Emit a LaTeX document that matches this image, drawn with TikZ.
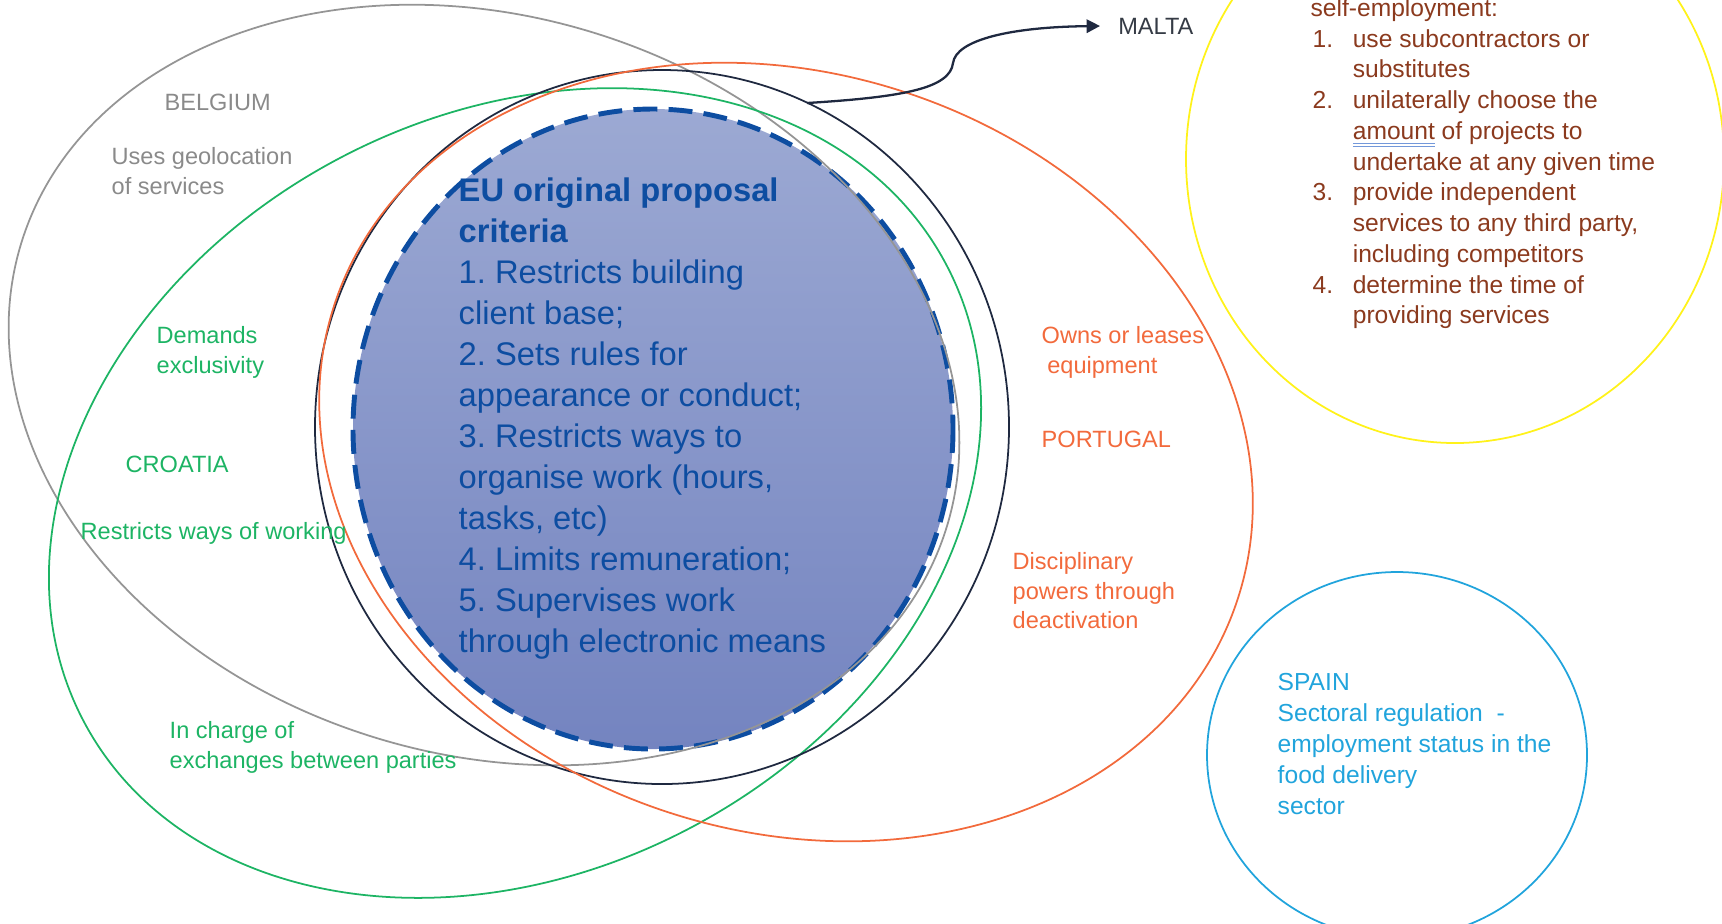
\documentclass[tikz,border=0pt]{standalone}
\usepackage{fontspec}
\setmainfont{Liberation Sans}
\usetikzlibrary{arrows.meta}
\definecolor{eublue}{HTML}{0D4DA1}
\definecolor{eufilltop}{HTML}{9CA9D3}
\definecolor{eufillbot}{HTML}{7484C0}
\definecolor{begray}{HTML}{959595}
\definecolor{betext}{HTML}{8A8A8A}
\definecolor{hrgreen}{HTML}{1DB464}
\definecolor{ptorange}{HTML}{F26A3C}
\definecolor{mtnavy}{HTML}{1F2940}
\definecolor{mttext}{HTML}{353B45}
\definecolor{mtyellow}{HTML}{FFF21A}
\definecolor{mtbrown}{HTML}{8B3A1E}
\definecolor{esblue}{HTML}{21A4DC}
\definecolor{spellmark}{HTML}{7398DA}

% double underline as left by the spell checker
\newcommand\dblmark[1]{\setbox0=\hbox{#1}%
  \rlap{\color{spellmark}\rule[-1.4pt]{\wd0}{0.3pt}}%
  \rlap{\color{spellmark}\rule[-2.2pt]{\wd0}{0.3pt}}\box0\relax}

\frenchspacing

\begin{document}
\begin{tikzpicture}[x=0.01cm, y=-0.01cm,
  set/.style={line width=0.5pt},
  lbl/.style={inner sep=0pt, align=left, font=\fontsize{6.7}{8.4}\selectfont},
  txt/.style={inner sep=0pt, align=left, font=\fontsize{7}{8.75}\selectfont},
  crit/.style={inner sep=0pt, align=left, text=eublue, font=\fontsize{9.3}{11.65}\selectfont}]
  \useasboundingbox (0,0) rectangle (1722,923);
  \clip (0,0) rectangle (1722,923);

  % EU criteria (filled, drawn first)
  \draw[eublue, line width=1.4pt, dash pattern=on 6.8pt off 3.2pt,
    top color=eufilltop, bottom color=eufillbot] (653,429) ellipse [x radius=300, y radius=320];

  % country sets
  \draw[set, begray, shift={(484,385)}, rotate=-17] (0,0) ellipse [x radius=484, y radius=369];
  \draw[set, hrgreen, shift={(515,493)}, rotate=28] (0,0) ellipse [x radius=488, y radius=378];
  \draw[set, mtnavy] (662,427) ellipse [x radius=347, y radius=357];
  \draw[set, ptorange, shift={(786,452)}, rotate=-18] (0,0) ellipse [x radius=475, y radius=379];
  \draw[set, mtyellow] (1455,159) ellipse [x radius=269, y radius=284];
  \draw[set, esblue] (1397,755) ellipse [x radius=190, y radius=183];

  \node[crit, anchor=north west] (eu) at (458,177)
    {\textbf{EU original proposal}\\\textbf{criteria}\\1. Restricts building\\client base;\\
     2. Sets rules for\\appearance or conduct;\\3. Restricts ways to\\organise work (hours,\\
     tasks, etc)\\4. Limits remuneration;\\5. Supervises work\\through electronic means};

  % Belgium
  \node[lbl, text=betext, anchor=west] (be) at (164,102) {BELGIUM};
  \node[lbl, text=betext, anchor=north west] (begeo) at (111,147) {Uses geolocation\\of services};

  % Croatia
  \node[lbl, text=hrgreen, anchor=north west] (hrexcl) at (156,326) {Demands\\exclusivity};
  \node[lbl, text=hrgreen, anchor=west] (hr) at (125,464) {CROATIA};
  \node[lbl, text=hrgreen, anchor=west] (hrways) at (80,533) {Restricts ways of working};
  \node[lbl, text=hrgreen, anchor=north west] (hrexch) at (169,721) {In charge of\\exchanges between parties};

  % Portugal
  \node[lbl, text=ptorange, anchor=north west] (ptown) at (1041,326) {Owns or leases\\\hspace*{1.6pt}equipment};
  \node[lbl, text=ptorange, anchor=west] (pt) at (1041,439) {PORTUGAL};
  \node[lbl, text=ptorange, anchor=north west] (ptdisc) at (1012,552) {Disciplinary\\powers through\\deactivation};

  % Spain
  \node[txt, text=esblue, anchor=north west] (es) at (1277,673)
    {SPAIN\\Sectoral regulation~~-\\employment status in the\\food delivery\\sector};

  % Malta
  \node[lbl, text=mttext, anchor=west, inner sep=5pt] (malta) at (1100,26) {MALTA};
  \node[txt, text=mtbrown, anchor=north west] (mtlist) at (1312,-6)
    {\begin{tabular}[t]{@{}p{11.4pt}@{}l@{}}
      \multicolumn{2}{@{}l@{}}{\hspace*{-0.6pt}self-employment:}\\
      1. & use subcontractors or\\
         & substitutes\\
      2. & unilaterally choose the\\
         & \dblmark{amount} of projects to\\
         & undertake at any given time\\
      3. & provide independent\\
         & services to any third party,\\
         & including competitors\\
      4. & determine the time of\\
         & providing services
    \end{tabular}};

  \coordinate (mtfrom) at (807,103);
  \draw[mtnavy, line width=0.65pt, -{Triangle[length=3.8pt,width=3.8pt]}]
    (mtfrom) .. controls (905,97) and (950,88) .. (953,63)
    .. controls (956,40) and (1010,27) .. (malta.west);
\end{tikzpicture}
\end{document}
